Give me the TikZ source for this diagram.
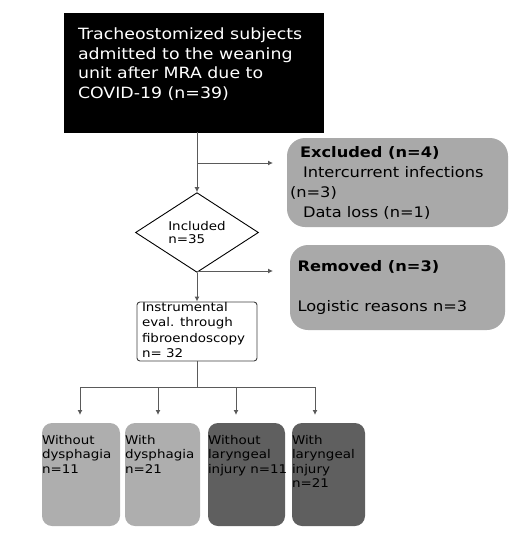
\documentclass[tikz,border=0pt]{standalone}
\usepackage{fontspec}
\setmainfont{DejaVu Sans}[FakeStretch=1.12]
\usepackage{xcolor}
\usetikzlibrary{arrows.meta, positioning, shapes.geometric, calc}
\definecolor{flowline}{HTML}{5A5A5A}
\definecolor{notegray}{HTML}{A9A9A9}
\definecolor{lightgroup}{HTML}{AEAEAE}
\definecolor{darkgroup}{HTML}{5F5F5F}

% top-aligned text inside a box of fixed size
\newcommand{\boxtext}[4]{\parbox[c][#2][t]{#1}{\vspace*{#3}#4}}

\begin{document}
\begin{tikzpicture}[
    x=1pt, y=-1pt,
    link/.style={draw=flowline, line width=1pt},
    flow/.style={link, -{Latex[length=5pt, width=5pt]}},
    startbox/.style={
        rectangle, fill=black, draw=black, inner sep=0pt,
        text=white, font=\fontsize{15.5}{19.5}\selectfont,
    },
    notebox/.style={
        rectangle, rounded corners=18pt, fill=notegray,
        align=left, inner sep=0pt,
    },
    decision/.style={
        diamond, draw=black, line width=0.9pt, fill=white, inner sep=0pt,
        minimum width=123pt, minimum height=51pt,
        font=\fontsize{12}{13}\selectfont, align=left,
    },
    evalbox/.style={
        rectangle, rounded corners=3pt, draw=black!75, line width=0.9pt,
        fill=white, inner sep=0pt, font=\fontsize{12}{15.5}\selectfont,
    },
    groupbox/.style={
        rectangle, rounded corners=10pt, inner sep=0pt,
        font=\fontsize{12}{14.5}\selectfont,
    },
]
\useasboundingbox (0,0) rectangle (516,547);

% ── Start ───────────────────────────────────────────────────────────────────
\node[startbox] (start) at (193.5,72.5) {%
    \boxtext{259pt}{119pt}{15pt}{\hspace*{14pt}\parbox[t]{244pt}{\raggedright
    Tracheostomized subjects\\ admitted to the weaning\\ unit after MRA due to\\ COVID-19 (n=39)}}};

% ── Decision ────────────────────────────────────────────────────────────────
\node[decision] (incl) at (197,232.5) {Included\\n=35};

% ── Side notes ──────────────────────────────────────────────────────────────
\node[notebox, minimum width=221pt, minimum height=89pt] (excl) at (397.5,182.5) {%
    \parbox{215pt}{\fontsize{14.5}{20}\selectfont
    \hspace*{10pt}\textbf{Excluded (n=4)}\\
    \hspace*{13pt}Intercurrent infections\\
    (n=3)\\
    \hspace*{13pt}Data loss (n=1)}};

\node[notebox, minimum width=215pt, minimum height=85pt] (remv) at (397.5,287.5) {%
    \parbox{200pt}{\fontsize{14.5}{18}\selectfont
    \textbf{Removed (n=3)}\\[22pt]
    Logistic reasons n=3}};

% ── Instrumental evaluation ─────────────────────────────────────────────────
\node[evalbox] (eval) at (197,331.5) {%
    \boxtext{120pt}{59pt}{0pt}{\hspace*{5pt}\parbox[t]{114pt}{\raggedright
    Instrumental\\ eval. through\\ fibroendoscopy\\ n= 32}}};

% ── Outcome groups ──────────────────────────────────────────────────────────
\node[groupbox, fill=lightgroup] (g1) at (81,474.5)    {\boxtext{78pt}{103pt}{12pt}{Without\\ dysphagia\\ n=11}};
\node[groupbox, fill=lightgroup] (g2) at (162.5,474.5) {\boxtext{75pt}{103pt}{12pt}{With\\ dysphagia\\ n=21}};
\node[groupbox, fill=darkgroup]  (g3) at (246.5,474.5) {\boxtext{77pt}{103pt}{12pt}{Without\\ laryngeal\\ \mbox{injury n=11}}};
\node[groupbox, fill=darkgroup]  (g4) at (328.5,474.5) {\boxtext{73pt}{103pt}{12pt}{With\\ laryngeal\\ injury\\ n=21}};

% ── Connectors ──────────────────────────────────────────────────────────────
\coordinate (exSplit) at (197,163);
\coordinate (exEnd)   at (273,163);
\coordinate (rmSplit) at (197,271);
\coordinate (rmEnd)   at (273,271);
\coordinate (bus)     at (197,387);
\coordinate (t1) at (80,415);
\coordinate (t2) at (158,415);
\coordinate (t3) at (236,415);
\coordinate (t4) at (315,415);

\draw[flow] (incl.north |- start.south) -- (incl.north);
\draw[flow] (exSplit) -- (exEnd);
\draw[flow] (incl.south) -- (eval.north);
\draw[flow] (rmSplit) -- (rmEnd);
\draw[link] (eval.south) -- (bus);
\draw[link] (t1 |- bus) -- (t4 |- bus);
\draw[flow] (t1 |- bus) -- (t1);
\draw[flow] (t2 |- bus) -- (t2);
\draw[flow] (t3 |- bus) -- (t3);
\draw[flow] (t4 |- bus) -- (t4);

\end{tikzpicture}
\end{document}
